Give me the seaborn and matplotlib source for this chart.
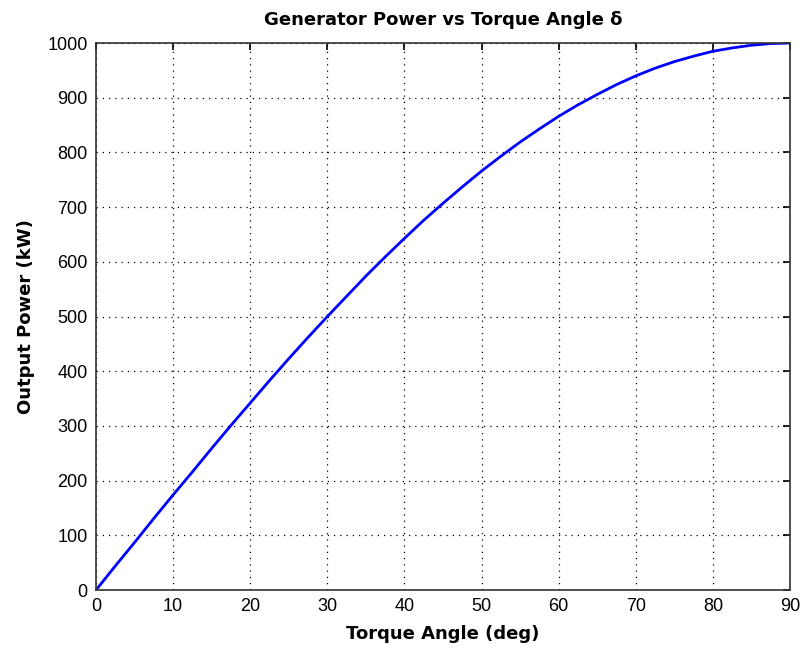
import matplotlib
matplotlib.use("Agg")
import matplotlib.pyplot as plt
import pandas as pd
import seaborn as sns

# values, every 2.5 degrees
angle_deg = [0, 2.5, 5, 7.5, 10, 12.5, 15, 17.5, 20, 22.5, 25, 27.5, 30, 32.5, 35, 37.5,
             40, 42.5, 45, 47.5, 50, 52.5, 55, 57.5, 60, 62.5, 65, 67.5, 70, 72.5, 75,
             77.5, 80, 82.5, 85, 87.5, 90]
power_kw = [0, 44, 87, 131, 174, 216, 259, 301, 342, 383, 423, 462, 500, 537, 574, 609,
            643, 676, 707, 737, 766, 793, 819, 843, 866, 887, 906, 924, 940, 954, 966,
            976, 985, 991, 996, 999, 1000]

df = pd.DataFrame({"angle": angle_deg, "power": power_kw})

sns.set_style("white")
plt.rcParams["font.family"] = ["Liberation Sans", "DejaVu Sans"]

fig = plt.figure(figsize=(8.05, 6.48), dpi=100)
ax = fig.add_axes([0.1193, 0.0895, 0.8621, 0.8441])

sns.lineplot(data=df, x="angle", y="power", ax=ax, color="#0000ff", linewidth=2.0)

ax.set_xlim(0, 90)
ax.set_ylim(0, 1000)
ax.set_xticks(range(0, 91, 10))
ax.set_yticks(range(0, 1001, 100))
ax.grid(True, color="black", linestyle=(0, (1, 4)), linewidth=0.9)
ax.tick_params(direction="in", length=5, width=1.2, top=True, right=True,
               labelsize=13, colors="black", pad=6)
for s in ax.spines.values():
    s.set_color("#333333")
    s.set_linewidth(1.2)

bold = dict(fontsize=13, fontweight="bold", family="DejaVu Sans", color="black")
ax.set_title("Generator Power vs Torque Angle δ", pad=13, **bold)
ax.set_xlabel("Torque Angle (deg)", labelpad=7, **bold)
ax.set_ylabel("Output Power (kW)", labelpad=9, **bold)

fig.savefig("out.png", dpi=100)
